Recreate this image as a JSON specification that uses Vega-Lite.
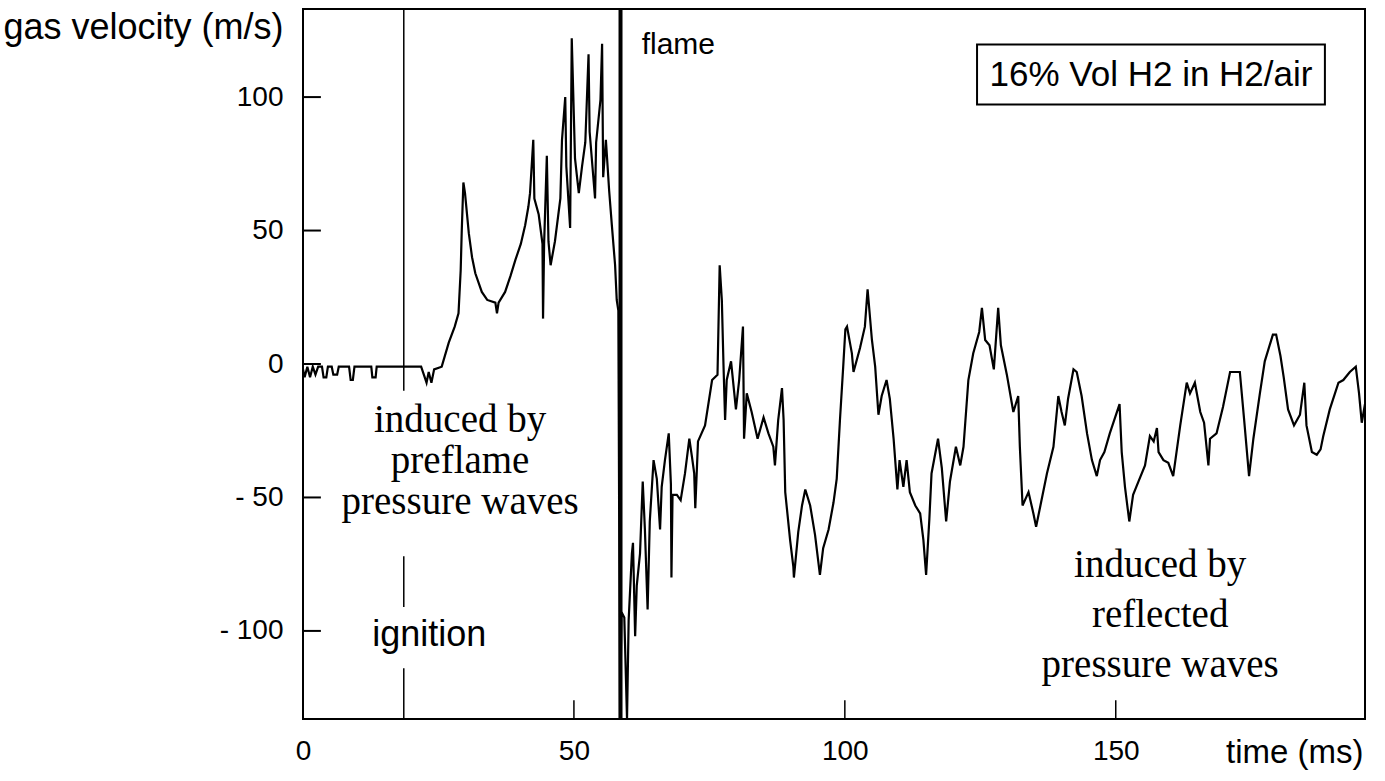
{
  "$schema": "https://vega.github.io/schema/vega-lite/v6.json",
  "width": 1062,
  "height": 710,
  "autosize": "none",
  "padding": {"left": 303, "top": 9, "right": 20, "bottom": 62},
  "background": "white",
  "config": {
    "view": {"stroke": "black", "strokeWidth": 2},
    "axis": {"grid": false, "domain": false, "ticks": false, "tickSize": 0}
  },
  "datasets": {
    "velocity": [
      {"t":0,"v":-2},{"t":0.3,"v":-5},{"t":0.8,"v":-1},{"t":1.3,"v":-5},{"t":1.8,"v":-1},{"t":2.3,"v":-4},{"t":2.8,"v":-1},{"t":3.5,"v":-1},{"t":3.8,"v":-5},{"t":4.3,"v":-5},{"t":4.6,"v":-1},{"t":5.3,"v":-1},{"t":5.6,"v":-4},{"t":6.3,"v":-4},{"t":6.6,"v":-1},{"t":8.5,"v":-1},{"t":8.8,"v":-6},{"t":9.2,"v":-6},{"t":9.5,"v":-1},{"t":12.6,"v":-1},{"t":12.8,"v":-5},{"t":13.4,"v":-5},{"t":13.6,"v":-1},{"t":16.5,"v":-1},{"t":18.6,"v":-1},{"t":20.5,"v":-1},{"t":21.8,"v":-1},{"t":22.3,"v":-4},{"t":22.8,"v":-7},{"t":23.2,"v":-3},{"t":23.7,"v":-7},{"t":24.2,"v":-2},{"t":25.6,"v":-1},
      {"t":26.9,"v":8},{"t":28,"v":14},{"t":28.7,"v":19},{"t":29.1,"v":35},{"t":29.3,"v":50},{"t":29.6,"v":68},{"t":29.9,"v":64},{"t":30.6,"v":49},{"t":31.2,"v":40},{"t":31.8,"v":34},{"t":33,"v":27},{"t":34,"v":24},{"t":35.5,"v":23},{"t":35.8,"v":19},{"t":36.1,"v":23},{"t":37.3,"v":27},{"t":38.3,"v":33},{"t":39.2,"v":39},{"t":40.2,"v":45},{"t":41,"v":52},{"t":41.6,"v":59},{"t":41.9,"v":64},{"t":42.5,"v":84},{"t":42.7,"v":62},{"t":43.5,"v":56},{"t":44.2,"v":45},{"t":44.3,"v":17},{"t":44.5,"v":45},{"t":45,"v":78},{"t":45.3,"v":46},{"t":45.7,"v":37},{"t":46.5,"v":46},{"t":47.5,"v":62},{"t":47.8,"v":84},{"t":48.4,"v":100},{"t":48.6,"v":74},{"t":49.3,"v":51},{"t":49.6,"v":122},{"t":50.2,"v":77},{"t":50.9,"v":64},{"t":51.5,"v":74},{"t":52.1,"v":83},{"t":52.7,"v":116},{"t":52.9,"v":87},{"t":53.9,"v":62},{"t":54.1,"v":83},{"t":54.9,"v":99},{"t":55.2,"v":120},{"t":55.4,"v":70},{"t":55.9,"v":84},{"t":56.5,"v":65},{"t":57,"v":52},{"t":57.6,"v":37},{"t":57.9,"v":24},{"t":58.2,"v":20},
      {"t":58.5,"v":-133},{"t":58.8,"v":-93},{"t":59.3,"v":-95},{"t":59.8,"v":-133},{"t":60.1,"v":-96},{"t":60.7,"v":-71},{"t":60.9,"v":-67},{"t":61.3,"v":-102},{"t":61.6,"v":-83},{"t":62.2,"v":-71},{"t":62.7,"v":-44},{"t":63.1,"v":-62},{"t":63.6,"v":-92},{"t":64,"v":-59},{"t":64.7,"v":-36},{"t":65.3,"v":-43},{"t":65.9,"v":-62},{"t":66.2,"v":-46},{"t":66.8,"v":-36},{"t":67.5,"v":-26},{"t":67.9,"v":-45},{"t":68,"v":-80},{"t":68.2,"v":-49},{"t":69,"v":-49},{"t":69.7,"v":-51},{"t":70.5,"v":-41},{"t":71.3,"v":-28},{"t":71.8,"v":-35},{"t":72.2,"v":-41},{"t":72.4,"v":-54},{"t":72.9,"v":-29},{"t":74.2,"v":-23},{"t":75.5,"v":-6},{"t":76.5,"v":-4},{"t":76.9,"v":37},{"t":77.3,"v":24},{"t":77.6,"v":0},{"t":77.9,"v":-21},{"t":78.2,"v":-6},{"t":79,"v":1},{"t":79.9,"v":-17},{"t":80.5,"v":-6},{"t":81.2,"v":14},{"t":81.4,"v":-28},{"t":81.9,"v":-11},{"t":82.8,"v":-18},{"t":83.9,"v":-28},{"t":85,"v":-20},{"t":85.9,"v":-26},{"t":86.8,"v":-31},{"t":87.1,"v":-38},{"t":87.7,"v":-21},{"t":88.4,"v":-9},{"t":88.7,"v":-21},{"t":89,"v":-48},{"t":89.9,"v":-66},{"t":90.5,"v":-76},{"t":90.6,"v":-80},{"t":91.4,"v":-63},{"t":92.1,"v":-53},{"t":92.7,"v":-47},{"t":93.6,"v":-53},{"t":94.5,"v":-64},{"t":95.4,"v":-79},{"t":96,"v":-69},{"t":97,"v":-62},{"t":97.9,"v":-52},{"t":98.5,"v":-43},{"t":99.1,"v":-21},{"t":99.7,"v":-1},{"t":100.1,"v":13},{"t":100.4,"v":14},{"t":101.3,"v":4},{"t":101.6,"v":-3},{"t":102.8,"v":6},{"t":103.7,"v":14},{"t":104.2,"v":28},{"t":105,"v":9},{"t":105.6,"v":-1},{"t":106.2,"v":-19},{"t":106.8,"v":-12},{"t":107.7,"v":-6},{"t":108.3,"v":-13},{"t":109,"v":-28},{"t":109.7,"v":-47},{"t":110.1,"v":-36},{"t":110.8,"v":-46},{"t":111.4,"v":-36},{"t":112,"v":-48},{"t":113,"v":-53},{"t":113.9,"v":-56},{"t":114.5,"v":-66},{"t":115,"v":-79},{"t":115.6,"v":-58},{"t":116,"v":-41},{"t":117.2,"v":-28},{"t":117.9,"v":-39},{"t":118.7,"v":-59},{"t":119.4,"v":-44},{"t":120.5,"v":-31},{"t":121.3,"v":-38},{"t":121.9,"v":-31},{"t":122.8,"v":-6},{"t":123.7,"v":4},{"t":124.8,"v":12},{"t":125.3,"v":21},{"t":125.9,"v":9},{"t":126.7,"v":7},{"t":127.5,"v":-2},{"t":128.3,"v":21},{"t":128.8,"v":7},{"t":129.9,"v":-4},{"t":131.1,"v":-18},{"t":132,"v":-12},{"t":132.3,"v":-31},{"t":132.8,"v":-53},{"t":133.9,"v":-48},{"t":134.8,"v":-56},{"t":135.3,"v":-61},{"t":136.1,"v":-53},{"t":137.3,"v":-41},{"t":138.5,"v":-31},{"t":139.4,"v":-12},{"t":140,"v":-18},{"t":140.6,"v":-23},{"t":141.2,"v":-13},{"t":142.2,"v":-2},{"t":142.8,"v":-3},{"t":143.7,"v":-12},{"t":144.7,"v":-26},{"t":145.6,"v":-36},{"t":146.5,"v":-42},{"t":147.1,"v":-36},{"t":147.9,"v":-33},{"t":148.9,"v":-26},{"t":150.7,"v":-15},{"t":151.1,"v":-33},{"t":151.7,"v":-46},{"t":152.5,"v":-59},{"t":153.2,"v":-49},{"t":154.2,"v":-44},{"t":155.4,"v":-38},{"t":156.3,"v":-27},{"t":157,"v":-29},{"t":157.6,"v":-24},{"t":157.9,"v":-33},{"t":158.8,"v":-36},{"t":159.7,"v":-37},{"t":160.6,"v":-42},{"t":161.9,"v":-23},{"t":163.1,"v":-7},{"t":163.7,"v":-11},{"t":164.6,"v":-7},{"t":165.6,"v":-18},{"t":166.3,"v":-22},{"t":167.1,"v":-38},{"t":167.4,"v":-28},{"t":168.6,"v":-26},{"t":169.8,"v":-16},{"t":171.1,"v":-3},{"t":172.9,"v":-3},{"t":173.7,"v":-21},{"t":174.6,"v":-42},{"t":175.4,"v":-28},{"t":176.6,"v":-11},{"t":177.5,"v":1},{"t":179,"v":11},{"t":179.6,"v":11},{"t":180.4,"v":3},{"t":181,"v":-5},{"t":181.8,"v":-17},{"t":182.9,"v":-23},{"t":184,"v":-19},{"t":184.8,"v":-7},{"t":185.2,"v":-23},{"t":186.2,"v":-33},{"t":187.1,"v":-34},{"t":187.8,"v":-32},{"t":188.3,"v":-27},{"t":189.5,"v":-17},{"t":191.1,"v":-7},{"t":192,"v":-6},{"t":193.2,"v":-3},{"t":194.3,"v":-1},{"t":194.9,"v":-11},{"t":195.4,"v":-22},{"t":196,"v":-15}
    ],
    "ignition": [
      {"t": 18.6, "v": 133, "bottom": -10},
      {"t": 18.6, "v": -72, "bottom": -91},
      {"t": 18.6, "v": -114, "bottom": -133}
    ],
    "yticks": [{"v": 100}, {"v": 50}, {"v": 0}, {"v": -50}, {"v": -100}],
    "xticks": [{"t": 50}, {"t": 100}, {"t": 150}]
  },
  "encoding": {
    "x": {
      "type": "quantitative",
      "scale": {"domain": [0, 196], "nice": false, "zero": false},
      "axis": {
        "values": [0, 50, 100, 150],
        "labelFont": "Liberation Sans", "labelFontSize": 28, "labelColor": "black",
        "labelPadding": 18, "labelFlush": false, "labelOverlap": false,
        "title": "time (ms)", "titleFont": "Liberation Sans", "titleFontSize": 33,
        "titleFontWeight": "normal", "titleColor": "black",
        "titleX": 1060, "titleY": 43, "titleAlign": "right", "titleBaseline": "alphabetic"
      }
    },
    "y": {
      "type": "quantitative",
      "scale": {"domain": [-133, 133], "nice": false, "zero": false},
      "axis": {
        "values": [-100, -50, 0, 50, 100],
        "labelExpr": "datum.value < 0 ? '- ' + (-datum.value) : datum.label",
        "labelFont": "Liberation Sans", "labelFontSize": 28, "labelColor": "black",
        "labelPadding": 20, "labelOverlap": false,
        "title": "gas velocity (m/s)", "titleFont": "Liberation Sans", "titleFontSize": 36,
        "titleFontWeight": "normal", "titleColor": "black", "titleAngle": 0,
        "titleX": -300, "titleY": 29, "titleAlign": "left", "titleBaseline": "alphabetic"
      }
    }
  },
  "layer": [
    {
      "data": {"name": "velocity"},
      "mark": {"type": "line", "color": "black", "strokeWidth": 2.2, "clip": true},
      "encoding": {
        "x": {"field": "t"},
        "y": {"field": "v"}
      }
    },
    {
      "data": {"name": "ignition"},
      "mark": {"type": "rule", "color": "black", "strokeWidth": 1.5},
      "encoding": {
        "x": {"field": "t"},
        "y": {"field": "v"},
        "y2": {"field": "bottom"}
      }
    },
    {
      "data": {"values": [{"t": 58.6}]},
      "mark": {"type": "rule", "color": "black", "strokeWidth": 4},
      "encoding": {"x": {"field": "t"}, "y": null}
    },
    {
      "data": {"name": "yticks"},
      "mark": {"type": "rule", "color": "black", "strokeWidth": 2},
      "encoding": {
        "x": {"datum": 0},
        "x2": {"datum": 3.3},
        "y": {"field": "v"}
      }
    },
    {
      "data": {"name": "xticks"},
      "mark": {"type": "rule", "color": "black", "strokeWidth": 1.5},
      "encoding": {
        "x": {"field": "t"},
        "y": {"datum": -133},
        "y2": {"datum": -126}
      }
    },
    {
      "data": {"values": [{}]},
      "mark": {"type": "rect", "fillOpacity": 0, "stroke": "black", "strokeWidth": 2},
      "encoding": {
        "x": {"datum": 124.4},
        "x2": {"datum": 188.6},
        "y": {"datum": 119.7},
        "y2": {"datum": 97.2}
      }
    },
    {
      "data": {"values": [{}]},
      "mark": {"type": "text", "font": "Liberation Sans", "fontSize": 35, "color": "black", "align": "center", "baseline": "middle"},
      "encoding": {
        "x": {"datum": 156.5},
        "y": {"datum": 108.4},
        "text": {"value": "16% Vol H2 in H2/air"}
      }
    },
    {
      "data": {"values": [{}]},
      "mark": {"type": "text", "font": "Liberation Sans", "fontSize": 30, "color": "black", "align": "left", "baseline": "middle"},
      "encoding": {
        "x": {"datum": 62.5},
        "y": {"datum": 119.7},
        "text": {"value": "flame"}
      }
    },
    {
      "data": {"values": [{}]},
      "mark": {"type": "text", "font": "Liberation Sans", "fontSize": 36, "color": "black", "align": "center", "baseline": "middle"},
      "encoding": {
        "x": {"datum": 23.3},
        "y": {"datum": -101.4},
        "text": {"value": "ignition"}
      }
    },
    {
      "data": {"values": [{}]},
      "mark": {"type": "text", "font": "Liberation Serif", "fontSize": 39, "color": "black", "align": "center", "baseline": "middle", "lineHeight": 41},
      "encoding": {
        "x": {"datum": 29.0},
        "y": {"datum": -20.8},
        "text": {"value": ["induced by", "preflame", "pressure waves"]}
      }
    },
    {
      "data": {"values": [{}]},
      "mark": {"type": "text", "font": "Liberation Serif", "fontSize": 39, "color": "black", "align": "center", "baseline": "middle", "lineHeight": 50},
      "encoding": {
        "x": {"datum": 158.2},
        "y": {"datum": -75.2},
        "text": {"value": ["induced by", "reflected", "pressure waves"]}
      }
    }
  ]
}
